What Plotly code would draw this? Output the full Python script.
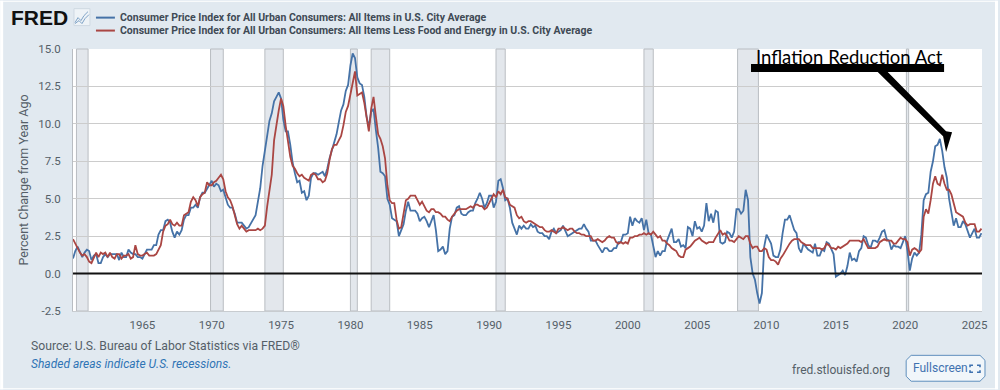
import pandas as pd
import plotly.graph_objects as go

W, H = 1000, 390
ML, MR, MT, MB = 73, 16, 48.5, 78.5

cpi_all = [
 1.0,1.5,1.8,1.4,1.1,1.4, 1.6,1.5,0.9,1.2,1.3,0.7, 0.7,1.1,1.3,1.1,1.3,1.3, 1.3,1.3,0.9,1.4,1.1,1.1,
 1.6,1.4,1.3,1.3,1.1,1.1, 1.0,1.3,1.6,1.6,1.6,1.9, 1.9,2.6,2.9,2.9,3.5,3.6, 3.4,2.8,2.4,2.8,2.6,2.9,
 3.6,3.9,3.9,4.4,4.4,4.6, 4.4,5.1,5.4,5.4,5.7,5.9, 6.2,5.8,6.0,5.9,5.5,5.6, 5.1,4.6,4.4,4.4,4.0,3.4,
 3.4,3.4,3.2,3.0,3.1,3.4, 3.6,3.9,4.8,5.7,7.2,8.3, 9.4,10.2,10.7,11.5,11.8,12.1, 11.7,10.3,9.5,9.5,8.6,7.4,
 6.7,6.1,6.2,5.4,5.5,4.9, 5.2,6.4,6.7,6.7,6.6,6.7, 6.8,6.5,7.0,7.7,8.3,8.9, 9.3,10.1,10.9,11.3,12.2,12.6,
 13.9,14.7,14.4,13.1,12.7,12.6, 11.8,10.5,9.8,10.8,11.0,9.6, 8.4,6.8,6.7,6.5,5.0,4.6, 3.7,3.6,3.5,2.5,2.9,3.3,
 4.2,4.8,4.2,4.2,4.2,4.0, 3.5,3.7,3.8,3.5,3.1,3.5, 3.9,2.9,1.5,1.6,1.8,1.3, 1.5,3.0,3.8,3.9,4.4,4.5,
 4.0,3.9,3.9,4.1,4.2,4.2, 4.7,5.0,5.4,5.0,4.4,4.7, 5.2,5.2,4.4,4.8,6.2,6.3, 5.7,4.9,5.0,4.4,3.4,3.0,
 2.6,3.2,3.0,3.2,3.0,3.0, 3.3,3.1,3.2,2.8,2.7,2.7, 2.5,2.5,2.3,2.8,3.0,2.7, 2.8,2.9,3.2,2.8,2.5,2.6,
 2.7,2.8,2.9,3.0,3.0,3.3, 3.0,2.8,2.2,2.2,2.2,1.9, 1.6,1.4,1.7,1.7,1.5,1.5, 1.7,1.7,2.1,2.1,2.6,2.6,
 2.7,3.8,3.2,3.7,3.5,3.4, 3.7,2.9,3.6,2.7,2.6,1.9, 1.1,1.5,1.2,1.5,1.5,2.2, 2.6,3.0,2.1,2.1,2.3,1.8,
 1.9,1.7,3.1,3.0,2.5,3.5, 3.0,3.1,2.8,3.2,4.7,3.5, 4.0,3.4,4.2,4.1,2.1,2.0, 2.1,2.8,2.7,2.4,2.8,4.3,
 4.3,4.0,4.2,5.6,4.9,1.1, 0.0,-0.4,-1.3,-2.0,-1.3,1.8, 2.6,2.3,2.0,1.2,1.1,1.1, 1.6,2.7,3.6,3.6,3.9,3.4,
 2.9,2.7,1.7,1.4,2.0,1.8, 1.6,1.5,1.4,2.0,1.2,1.2, 1.6,1.5,2.1,2.0,1.7,1.3, -0.2,-0.1,0.0,0.2,-0.1,0.5,
 1.4,0.9,1.0,0.8,1.5,1.7, 2.5,2.4,1.9,1.7,2.2,2.2, 2.1,2.4,2.8,2.9,2.3,2.2, 1.6,1.9,1.8,1.8,1.7,2.1,
 2.5,1.5,0.2,1.0,1.4,1.2, 1.4,2.6,4.9,5.3,5.4,6.8, 7.5,8.5,8.6,9.0,8.2,7.1, 6.4,5.0,4.0,3.2,3.7,3.1,
 3.1,3.5,3.3,2.9,2.4,2.7, 3.0,2.4,2.4,2.7,
]
cpi_core = [
 2.3,2.0,1.7,1.4,1.2,1.3, 1.1,0.8,0.7,1.1,1.4,1.1, 1.4,1.3,1.4,1.1,1.4,1.1, 1.0,1.3,1.3,1.0,1.2,1.2,
 1.3,1.0,1.1,1.9,1.3,1.2, 1.2,1.3,1.4,1.2,1.2,1.2, 1.3,1.6,1.9,2.8,3.2,3.3, 3.6,3.3,3.2,3.4,3.2,3.2,
 3.9,4.0,4.1,4.8,5.1,4.9, 4.5,5.1,5.3,5.4,6.1,5.9, 5.9,6.1,6.2,6.4,6.6,6.3, 5.5,5.1,4.9,4.5,3.9,3.3,
 3.0,3.2,3.0,2.8,2.9,2.9, 2.9,2.9,3.0,2.9,3.0,3.2, 4.5,5.4,6.6,8.9,10.0,10.9, 11.7,11.2,9.9,8.9,7.8,7.2,
 7.0,6.7,6.5,6.6,6.4,6.3, 6.2,6.6,6.7,6.6,6.3,6.3, 6.1,6.2,6.7,7.6,8.3,8.6, 8.6,8.9,9.2,9.9,10.8,11.2,
 12.0,12.6,13.5,11.9,12.0,12.1, 11.4,10.6,9.5,11.0,11.8,10.5, 9.3,9.0,8.5,7.7,5.9,4.9, 4.7,4.7,3.6,3.0,3.1,4.0,
 4.9,5.0,5.2,5.2,5.2,4.9, 4.6,4.8,4.5,4.2,4.1,4.3, 4.3,4.1,4.1,4.0,3.8,3.8, 3.6,3.5,3.8,4.0,4.2,4.3,
 4.3,4.3,4.3,4.4,4.5,4.4, 4.6,4.6,4.5,4.5,4.3,4.4, 4.7,5.0,5.3,5.1,5.5,5.3, 5.6,5.1,5.0,4.6,4.5,4.4,
 3.9,3.7,3.8,3.5,3.4,3.5, 3.5,3.4,3.3,3.2,3.1,3.1, 2.9,2.8,2.8,2.9,2.8,2.7, 3.0,3.0,3.1,3.0,2.9,3.0,
 3.0,2.8,2.7,2.7,2.6,2.6, 2.5,2.5,2.5,2.2,2.2,2.3, 2.2,2.1,2.2,2.4,2.5,2.4, 2.4,2.1,2.0,2.1,2.0,2.1,
 2.0,2.4,2.4,2.5,2.5,2.6, 2.6,2.7,2.6,2.7,2.6,2.8, 2.6,2.4,2.5,2.2,2.2,2.0, 1.9,1.7,1.6,1.5,1.2,1.1,
 1.1,1.6,1.7,1.8,2.0,2.2, 2.3,2.4,2.2,2.1,2.0,2.1, 2.1,2.1,2.4,2.7,2.9,2.6, 2.7,2.5,2.2,2.2,2.1,2.3,
 2.5,2.4,2.3,2.5,2.5,2.0, 1.7,1.8,1.8,1.5,1.5,1.7, 1.6,1.1,0.9,0.9,0.8,0.6, 1.0,1.2,1.5,1.8,2.0,2.2,
 2.3,2.3,2.3,2.1,2.0,1.9, 1.9,1.9,1.7,1.7,1.7,1.7, 1.6,1.7,2.0,1.9,1.7,1.7, 1.6,1.8,1.7,1.8,1.9,2.0,
 2.2,2.2,2.2,2.2,2.2,2.1, 2.3,2.0,1.7,1.7,1.7,1.7, 1.8,2.1,2.2,2.3,2.2,2.2, 2.2,2.0,2.0,2.2,2.4,2.3,
 2.3,2.1,1.2,1.6,1.7,1.6, 1.4,1.6,3.8,4.3,4.0,4.9, 6.0,6.5,6.0,5.9,6.6,6.0, 5.6,5.6,5.3,4.7,4.1,4.0,
 3.9,3.8,3.4,3.2,3.3,3.3, 3.3,2.8,2.8,3.0,
]
recession_start = ["1960-04-01","1969-12-01","1973-11-01","1980-01-01","1981-07-01",
                   "1990-07-01","2001-03-01","2007-12-01","2020-02-01"]
recession_end = ["1961-02-01","1970-11-01","1975-03-01","1980-07-01","1982-11-01",
                 "1991-03-01","2001-11-01","2009-06-01","2020-04-01"]
y_ticks = [-2.5, 0, 2.5, 5, 7.5, 10, 12.5, 15]
x_tick_years = list(range(1965, 2026, 5))

dates = pd.date_range("1960-01-01", periods=len(cpi_all), freq="2MS")
BLUE, RED = "#4572a7", "#aa4643"
PANEL = "#e1e9f0"

def px(x): return (x - ML) / (W - ML - MR)
def py(y): return 1 - (y - MT) / (H - MT - MB)

def path(points):
    return "M " + " L ".join(f"{px(a):.5f},{py(b):.5f}" for a, b in points)

fig = go.Figure()
fig.add_trace(go.Scatter(x=dates, y=cpi_all, mode="lines", line=dict(color=BLUE, width=1.8), showlegend=False))
fig.add_trace(go.Scatter(x=dates, y=cpi_core, mode="lines", line=dict(color=RED, width=1.8), showlegend=False))

shapes = []
for a, b in zip(recession_start, recession_end):
    shapes.append(dict(type="rect", xref="x", yref="paper", x0=a, x1=b, y0=0, y1=1, layer="below",
                       fillcolor="#e3e7ec", line=dict(color="#b9bdc2", width=1)))
shapes.append(dict(type="line", xref="paper", yref="y", x0=0, x1=1, y0=0, y1=0, layer="above",
                   line=dict(color="#111111", width=2)))

def pshape(kind, x0, y0, x1, y1, **kw):
    return dict(type=kind, xref="paper", yref="paper", x0=px(x0), y0=py(y0), x1=px(x1), y1=py(y1), **kw)

# white page edges
for r in [(0, 0, 3, H), (997, 0, W, H), (0, 0, W, 1), (0, 389, W, H)]:
    shapes.append(pshape("rect", *r, fillcolor="#ffffff", line=dict(width=0), layer="above"))
# legend keys
shapes.append(pshape("line", 96, 17, 115, 17, line=dict(color=BLUE, width=2)))
shapes.append(pshape("line", 96, 30, 115, 30, line=dict(color=RED, width=2)))
# FRED icon
shapes.append(pshape("rect", 74, 8, 90, 25, fillcolor="#eef3f7", line=dict(color="#cfd9e2", width=1)))
shapes.append(dict(type="path", xref="paper", yref="paper", path=path([(75,22),(78,17),(81,20),(84,15),(88,11)]),
                   line=dict(color="#7fa3c7", width=1)))
shapes.append(dict(type="path", xref="paper", yref="paper", path=path([(75,23),(79,20),(82,23),(85,18),(89,14)]),
                   line=dict(color="#7fa3c7", width=1)))
# hand-drawn callout
shapes.append(pshape("rect", 752.5, 63.5, 946, 71.5, fillcolor="#000000", line=dict(width=0), layer="above"))
shapes.append(dict(type="path", xref="paper", yref="paper", layer="above", fillcolor="#000000", line=dict(width=0),
                   path=path([(879,71),(889,71),(948,131),(954,132),(948,152),(945,136)]) + " Z"))
# fullscreen button
shapes.append(dict(type="path", xref="paper", yref="paper", fillcolor="#f1f6fa", line=dict(color="#5f8fbd", width=1),
                   path=path([(913,356),(982,356),(987,361),(987,377),(982,382),(913,382),(908,377),(908,361)]) + " Z"))
for pts in [[(972,368),(972,366),(975,366)], [(979,366),(982,366),(982,368)],
            [(982,371),(982,373),(979,373)], [(975,373),(972,373),(972,371)]]:
    shapes.append(dict(type="path", xref="paper", yref="paper", path=path(pts), line=dict(color="#3f72b0", width=1.6)))

def note(text, x, y, size, color, xanchor="left", family="Roboto", **kw):
    return dict(text=text, xref="paper", yref="paper", x=px(x), y=py(y), xanchor=xanchor, yanchor="middle",
                showarrow=False, font=dict(family=family, size=size, color=color), **kw)

annotations = [
    note("<b>FRED</b>", 9, 17, 21, "#111111", family="Liberation Sans"),
    note("<b>Consumer Price Index for All Urban Consumers: All Items in U.S. City Average</b>", 118, 17, 10.5, "#3f4a55"),
    note("<b>Consumer Price Index for All Urban Consumers: All Items Less Food and Energy in U.S. City Average</b>", 118, 30, 10.5, "#3f4a55"),
    note("Inflation Reduction Act", 755, 57, 18.5, "#000000", family="Lato"),
    note("Source: U.S. Bureau of Labor Statistics via FRED®", 29, 347, 12.2, "#555f68"),
    note("<i>Shaded areas indicate U.S. recessions.</i>", 29, 365, 12, "#2f74b5"),
    note("fred.stlouisfed.org", 792, 371, 12, "#555f68"),
    note("Fullscreen", 913, 369, 12, "#3f72b0"),
]

fig.update_layout(
    width=W, height=H, margin=dict(l=ML, r=MR, t=MT, b=MB, pad=0),
    paper_bgcolor=PANEL, plot_bgcolor="#ffffff", showlegend=False,
    shapes=shapes, annotations=annotations,
    xaxis=dict(type="date", range=["1960-01-01", "2025-07-15"], showgrid=False, zeroline=False,
               tickvals=[f"{y}-01-01" for y in x_tick_years], ticktext=[str(y) for y in x_tick_years],
               ticks="", showline=True, linecolor="#c8ccd0", linewidth=1,
               tickfont=dict(family="Roboto", size=11.5, color="#555f68"), ticklabelstandoff=3),
    yaxis=dict(range=[-2.5, 15], tickvals=y_ticks, ticktext=[f"{v:.1f}" for v in y_ticks], showgrid=True,
               gridcolor="#cccccc", gridwidth=1.4, zeroline=False, ticks="", showline=True,
               linecolor="#b9bdc2", linewidth=1,
               tickfont=dict(family="Roboto", size=11.5, color="#555f68"), ticklabelstandoff=9,
               title=dict(text="Percent Change from Year Ago", standoff=6,
                          font=dict(family="Roboto", size=12.5, color="#555f68"))),
)
fig.write_html("out.html", config=dict(displayModeBar=False),
               post_script="document.body.style.margin='0';")
